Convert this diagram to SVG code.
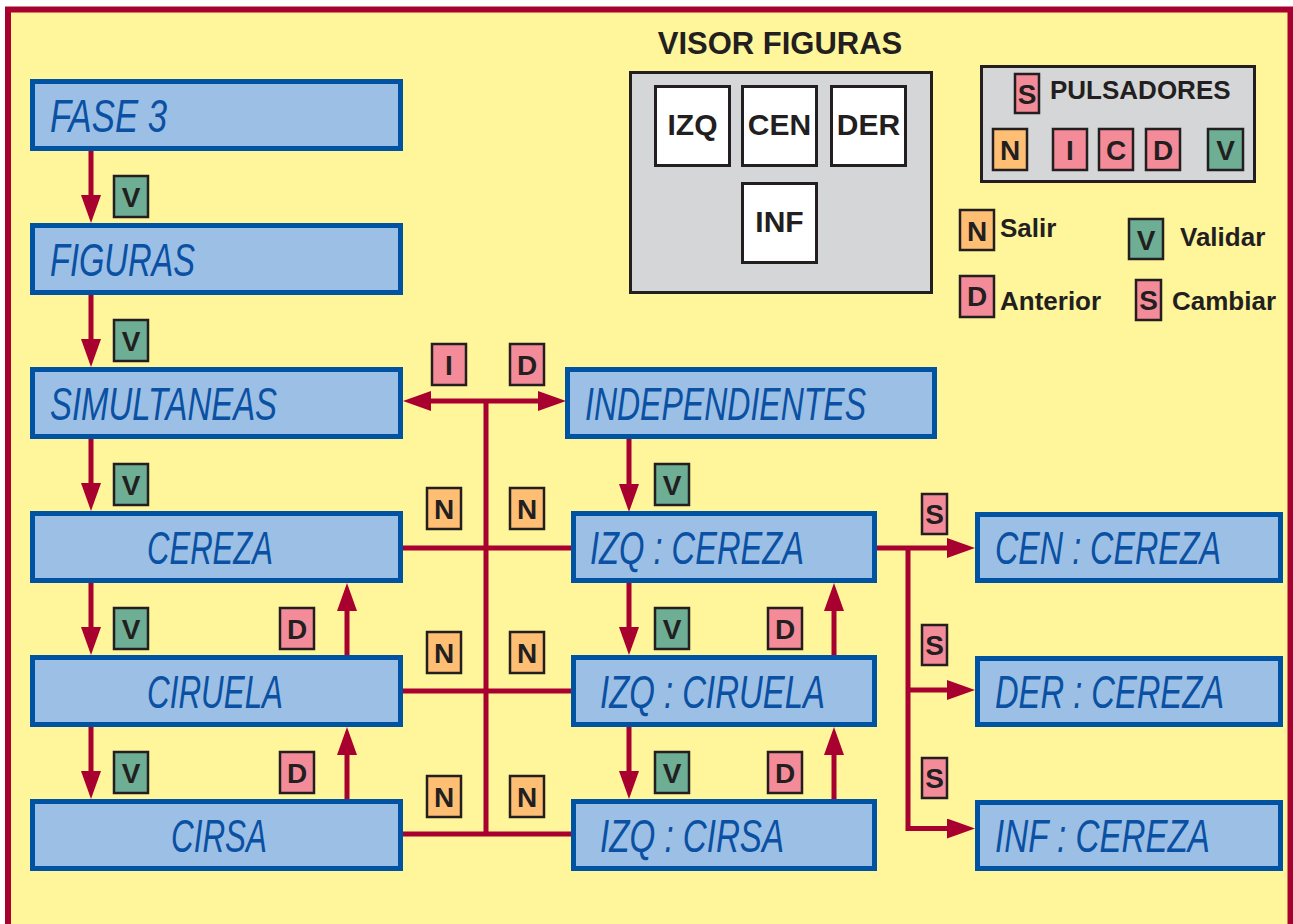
<svg xmlns="http://www.w3.org/2000/svg" width="1293" height="924" viewBox="0 0 1293 924">
<style>
.frame{fill:#FFF59A;stroke:#A8002F;stroke-width:6}
.box{fill:#9BBFE5;stroke:#0052A3;stroke-width:5}
.lcd{font-family:"Liberation Sans",Arial,sans-serif;font-style:italic;font-size:46px;fill:#0A50A3}
.grey{fill:#D5D6D8;stroke:#231F20;stroke-width:3}
.white{fill:#FFFFFF;stroke:#231F20;stroke-width:3}
.bv{fill:#6DAE94;stroke:#231F20;stroke-width:2.5}
.bp{fill:#F38B99;stroke:#231F20;stroke-width:2.5}
.bn{fill:#FEBF74;stroke:#231F20;stroke-width:2.5}
.bt{font-family:"Liberation Sans",Arial,sans-serif;font-weight:bold;font-size:28px;fill:#231F20;text-anchor:middle}
.lt{font-family:"Liberation Sans",Arial,sans-serif;font-weight:bold;font-size:26px;fill:#231F20}
.vt{font-family:"Liberation Sans",Arial,sans-serif;font-weight:bold;font-size:30px;fill:#231F20;text-anchor:middle}
.conn{fill:none;stroke:#A8002F;stroke-width:5}
</style>
<defs>
<marker id="ah" markerUnits="userSpaceOnUse" markerWidth="28" markerHeight="20" viewBox="0 0 28 20" refX="0" refY="10" orient="auto">
<path d="M0,0 L28,10 L0,20 z" fill="#A8002F"/>
</marker>
</defs>

<rect class="frame" x="8" y="9.5" width="1282.5" height="1000"/>

<!-- Visor figuras -->
<g id="visor">
<text x="780" y="54" font-family="Liberation Sans, Arial, sans-serif" font-weight="bold" font-size="31" fill="#231F20" text-anchor="middle">VISOR FIGURAS</text>
<rect class="grey" x="630.5" y="72.5" width="301" height="220"/>
<rect class="white" x="655.5" y="86.5" width="74" height="79"/>
<rect class="white" x="742.5" y="86.5" width="74" height="79"/>
<rect class="white" x="831.5" y="86.5" width="74" height="79"/>
<rect class="white" x="742.5" y="183.5" width="74" height="79"/>
<text class="vt" x="692.5" y="135">IZQ</text>
<text class="vt" x="779.5" y="135">CEN</text>
<text class="vt" x="868.5" y="135">DER</text>
<text class="vt" x="779.5" y="232">INF</text>
</g>

<!-- Pulsadores -->
<g id="pulsadores">
<rect class="grey" x="981.5" y="66.5" width="273" height="115"/>
<rect class="bp" x="1015" y="74" width="24" height="39"/>
<text class="bt" x="1027" y="104">S</text>
<text class="lt" x="1050" y="99">PULSADORES</text>
<rect class="bn" x="993" y="129" width="34" height="41"/>
<text class="bt" x="1010" y="160">N</text>
<rect class="bp" x="1053" y="129" width="34" height="41"/>
<text class="bt" x="1070" y="160">I</text>
<rect class="bp" x="1099" y="129" width="34" height="41"/>
<text class="bt" x="1116" y="160">C</text>
<rect class="bp" x="1146" y="129" width="34" height="41"/>
<text class="bt" x="1163" y="160">D</text>
<rect class="bv" x="1208" y="129" width="35" height="41"/>
<text class="bt" x="1225.5" y="160">V</text>
</g>

<!-- Legend -->
<g id="legend">
<rect class="bn" x="960" y="210" width="34" height="40"/>
<text class="bt" x="977" y="241">N</text>
<text class="lt" x="1000" y="237">Salir</text>
<rect class="bv" x="1129" y="219" width="34" height="40"/>
<text class="bt" x="1146" y="250">V</text>
<text class="lt" x="1180" y="246">Validar</text>
<rect class="bp" x="960" y="276" width="34" height="41"/>
<text class="bt" x="977" y="306">D</text>
<text class="lt" x="1000" y="310">Anterior</text>
<rect class="bp" x="1136" y="280" width="25" height="40"/>
<text class="bt" x="1148.5" y="310">S</text>
<text class="lt" x="1172" y="310">Cambiar</text>
</g>

<!-- Connectors -->
<g id="connectors">
<path class="conn" d="M91,151 V195" marker-end="url(#ah)"/>
<path class="conn" d="M91,295 V339" marker-end="url(#ah)"/>
<path class="conn" d="M91,439 V483" marker-end="url(#ah)"/>
<path class="conn" d="M91,583 V627" marker-end="url(#ah)"/>
<path class="conn" d="M91,727 V771" marker-end="url(#ah)"/>
<path class="conn" d="M347,655 V611" marker-end="url(#ah)"/>
<path class="conn" d="M347,799 V755" marker-end="url(#ah)"/>
<path class="conn" d="M629,439 V484" marker-end="url(#ah)"/>
<path class="conn" d="M629,583 V627" marker-end="url(#ah)"/>
<path class="conn" d="M629,727 V771" marker-end="url(#ah)"/>
<path class="conn" d="M834,655 V611" marker-end="url(#ah)"/>
<path class="conn" d="M834,799 V755" marker-end="url(#ah)"/>
<path class="conn" d="M486,401 H431" marker-end="url(#ah)"/>
<path class="conn" d="M486,401 H538" marker-end="url(#ah)"/>
<path class="conn" d="M486,399 V836"/>
<path class="conn" d="M403,548 H571"/>
<path class="conn" d="M403,691 H571"/>
<path class="conn" d="M403,834 H571"/>
<path class="conn" d="M876,548 H947" marker-end="url(#ah)"/>
<path class="conn" d="M908,548 V828.5 H947" marker-end="url(#ah)"/>
<path class="conn" d="M908,690 H947" marker-end="url(#ah)"/>
</g>

<!-- Badges on connectors -->
<g id="badges">
<rect class="bv" x="114" y="176" width="34" height="41"/><text class="bt" x="131" y="207">V</text>
<rect class="bv" x="114" y="320" width="34" height="41"/><text class="bt" x="131" y="351">V</text>
<rect class="bv" x="114" y="464" width="34" height="41"/><text class="bt" x="131" y="495">V</text>
<rect class="bv" x="114" y="608" width="34" height="41"/><text class="bt" x="131" y="639">V</text>
<rect class="bv" x="114" y="752" width="34" height="41"/><text class="bt" x="131" y="783">V</text>
<rect class="bp" x="280" y="608" width="34" height="41"/><text class="bt" x="297" y="639">D</text>
<rect class="bp" x="280" y="752" width="34" height="41"/><text class="bt" x="297" y="783">D</text>
<rect class="bp" x="432" y="344" width="34" height="41"/><text class="bt" x="449" y="375">I</text>
<rect class="bp" x="510" y="344" width="34" height="41"/><text class="bt" x="527" y="375">D</text>
<rect class="bn" x="427" y="488" width="34" height="41"/><text class="bt" x="444" y="519">N</text>
<rect class="bn" x="510" y="488" width="34" height="41"/><text class="bt" x="527" y="519">N</text>
<rect class="bn" x="427" y="632" width="34" height="41"/><text class="bt" x="444" y="663">N</text>
<rect class="bn" x="510" y="632" width="34" height="41"/><text class="bt" x="527" y="663">N</text>
<rect class="bn" x="427" y="776" width="34" height="41"/><text class="bt" x="444" y="807">N</text>
<rect class="bn" x="510" y="776" width="34" height="41"/><text class="bt" x="527" y="807">N</text>
<rect class="bv" x="655" y="464" width="34" height="41"/><text class="bt" x="672" y="495">V</text>
<rect class="bv" x="655" y="608" width="34" height="41"/><text class="bt" x="672" y="639">V</text>
<rect class="bv" x="655" y="752" width="34" height="41"/><text class="bt" x="672" y="783">V</text>
<rect class="bp" x="768" y="608" width="34" height="41"/><text class="bt" x="785" y="639">D</text>
<rect class="bp" x="768" y="752" width="34" height="41"/><text class="bt" x="785" y="783">D</text>
<rect class="bp" x="922" y="494" width="25" height="40"/><text class="bt" x="934.5" y="524">S</text>
<rect class="bp" x="922" y="625" width="25" height="40"/><text class="bt" x="934.5" y="655">S</text>
<rect class="bp" x="922" y="758" width="25" height="40"/><text class="bt" x="934.5" y="788">S</text>
</g>

<!-- Nodes -->
<g id="fase3"><rect class="box" x="32.5" y="81.5" width="368" height="67"/><text class="lcd" transform="translate(50,132) scale(0.72,1)" textLength="162.5" lengthAdjust="spacingAndGlyphs">FASE 3</text></g>
<g id="figuras"><rect class="box" x="32.5" y="225.5" width="368" height="67"/><text class="lcd" transform="translate(50,276) scale(0.72,1)" textLength="201.4" lengthAdjust="spacingAndGlyphs">FIGURAS</text></g>
<g id="simultaneas"><rect class="box" x="32.5" y="369.5" width="368" height="67"/><text class="lcd" transform="translate(50,420) scale(0.72,1)" textLength="315.3" lengthAdjust="spacingAndGlyphs">SIMULTANEAS</text></g>
<g id="cereza"><rect class="box" x="32.5" y="513.5" width="368" height="67"/><text class="lcd" transform="translate(147,564) scale(0.72,1)" textLength="175" lengthAdjust="spacingAndGlyphs">CEREZA</text></g>
<g id="ciruela"><rect class="box" x="32.5" y="657.5" width="368" height="67"/><text class="lcd" transform="translate(147,708) scale(0.72,1)" textLength="188.9" lengthAdjust="spacingAndGlyphs">CIRUELA</text></g>
<g id="cirsa"><rect class="box" x="32.5" y="801.5" width="368" height="67"/><text class="lcd" transform="translate(171,852) scale(0.72,1)" textLength="133.3" lengthAdjust="spacingAndGlyphs">CIRSA</text></g>
<g id="independientes"><rect class="box" x="567.5" y="369.5" width="367" height="67"/><text class="lcd" transform="translate(585,420) scale(0.72,1)" textLength="390.3" lengthAdjust="spacingAndGlyphs">INDEPENDIENTES</text></g>
<g id="izq-cereza"><rect class="box" x="573.5" y="513.5" width="301" height="67"/><text class="lcd" transform="translate(590,564) scale(0.72,1)" textLength="297.2" lengthAdjust="spacingAndGlyphs">IZQ : CEREZA</text></g>
<g id="izq-ciruela"><rect class="box" x="573.5" y="657.5" width="301" height="67"/><text class="lcd" transform="translate(600,708) scale(0.72,1)" textLength="312.5" lengthAdjust="spacingAndGlyphs">IZQ : CIRUELA</text></g>
<g id="izq-cirsa"><rect class="box" x="573.5" y="801.5" width="301" height="67"/><text class="lcd" transform="translate(600,852) scale(0.72,1)" textLength="255.6" lengthAdjust="spacingAndGlyphs">IZQ : CIRSA</text></g>
<g id="cen-cereza"><rect class="box" x="977.5" y="514.5" width="303" height="66"/><text class="lcd" transform="translate(995,564) scale(0.72,1)" textLength="313.9" lengthAdjust="spacingAndGlyphs">CEN : CEREZA</text></g>
<g id="der-cereza"><rect class="box" x="977.5" y="658.5" width="303" height="66"/><text class="lcd" transform="translate(995,708) scale(0.72,1)" textLength="318" lengthAdjust="spacingAndGlyphs">DER : CEREZA</text></g>
<g id="inf-cereza"><rect class="box" x="977.5" y="802.5" width="303" height="66"/><text class="lcd" transform="translate(995,852) scale(0.72,1)" textLength="298.6" lengthAdjust="spacingAndGlyphs">INF : CEREZA</text></g>
</svg>
